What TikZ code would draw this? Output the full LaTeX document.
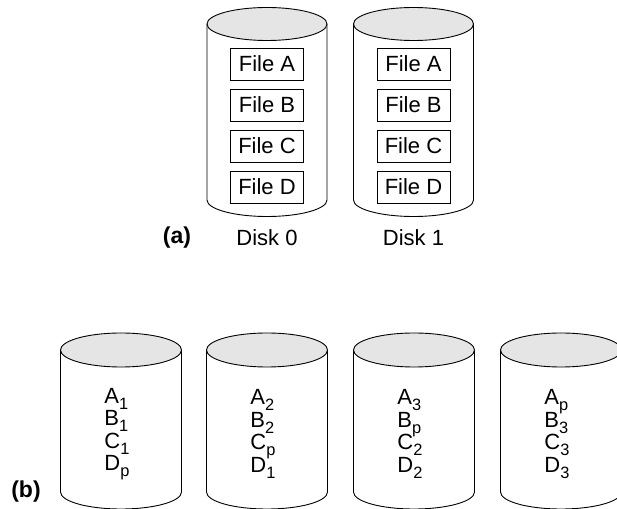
\documentclass[tikz,border=0pt]{standalone}
\usepackage{fontspec}
\setmainfont{Liberation Sans}
\definecolor{disktop}{gray}{0.9}
\newcommand\diskfont{\fontsize{11}{11.25}\selectfont\lineskiplimit=-20pt\relax}
\newcommand\lowidx[1]{\raisebox{-0.5ex}{\fontsize{8.2}{8}\selectfont#1}}
\tikzset{
  filebox/.style={draw,minimum width=36.5pt,minimum height=16pt,inner sep=0pt},
  parttag/.style={font=\fontsize{11.5}{13}\selectfont\bfseries},
}
\begin{document}
\begin{tikzpicture}[x=0.5pt,y=0.5pt,line width=0.45pt,font=\diskfont]
  \useasboundingbox (0,0) rectangle (617,509);
  \clip (0,0) rectangle (617,509);
  % (a) mirrored disks
  \foreach \cx/\nm in {267/0,413.5/1}{
    \draw[fill=white] (\cx-60,485) -- (\cx-60,309)
      arc[start angle=180,end angle=360,x radius=60,y radius=16.5] -- (\cx+60,485);
    \draw[fill=disktop] (\cx,485) ellipse[x radius=60,y radius=16.5];
    \node[filebox] (f\nm A) at (\cx,445) {File A};
    \node[filebox] (f\nm B) at (\cx,404) {File B};
    \node[filebox] (f\nm C) at (\cx,363) {File C};
    \node[filebox] (f\nm D) at (\cx,322) {File D};
    \node (disk\nm) at (\cx,271) {Disk \nm};
  }
  \node[parttag] (taga) at (177,271) {(a)};
  % (b) striped disks with parity
  \foreach \cx/\nm/\pa/\pb/\pc/\pd in {121/1/1/1/1/p,267/2/2/2/p/1,414/3/3/p/2/2,561/4/p/3/3/3}{
    \draw[fill=white] (\cx-60.5,159) -- (\cx-60.5,17)
      arc[start angle=180,end angle=360,x radius=60.5,y radius=17] -- (\cx+60.5,159);
    \draw[fill=disktop] (\cx,159) ellipse[x radius=60.5,y radius=17];
    \node[align=left,anchor=west,inner sep=0pt] (strip\nm) at (\cx-17,75)
      {A\lowidx{\pa}\\B\lowidx{\pb}\\C\lowidx{\pc}\\D\lowidx{\pd}};
  }
  \node[parttag] (tagb) at (26,17) {(b)};
\end{tikzpicture}
\end{document}
